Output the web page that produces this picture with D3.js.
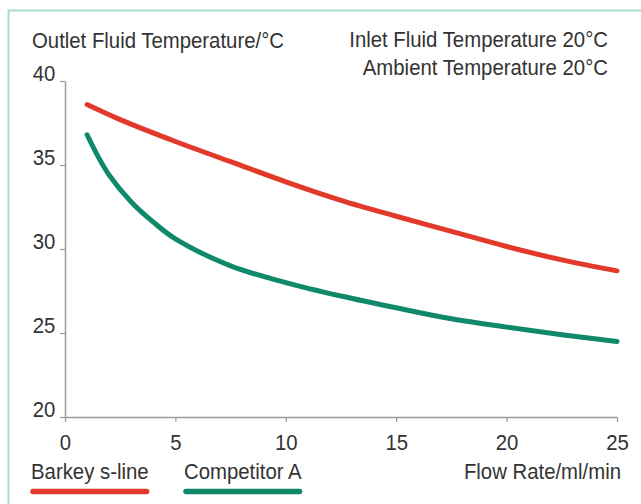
<!DOCTYPE html>
<html>
<head>
<meta charset="utf-8">
<script src="https://cdn.jsdelivr.net/npm/d3@7"></script>
<style>
  body { margin: 0; background: #fff; }
  svg text { font-family: "Liberation Sans", Arial, sans-serif; fill: #333; }
</style>
</head>
<body>
<div id="chart"></div>
<script>
// Data

const barkeyFlow = [1, 2.5, 5, 7.5, 10, 12.5, 15, 17.5, 20, 22.5, 25];
const barkey = [38.6, 37.7, 36.4, 35.2, 34.0, 32.9, 31.95, 31.05, 30.15, 29.35, 28.7];
const competitorFlow = [1, 1.5, 2, 3, 4, 5, 7.5, 10, 12.5, 15, 17.5, 20, 22.5, 25];
const competitor = [36.8, 35.5, 34.4, 32.8, 31.6, 30.6, 29.0, 28.0, 27.2, 26.5, 25.85, 25.35, 24.9, 24.5];
const xTicks = [0, 5, 10, 15, 20, 25];
const yTicks = [20, 25, 30, 35, 40];
const seriesNames = ['Barkey s-line', 'Competitor A'];
const seriesColors = ['#e13a2a', '#10896a'];

// Measurements

const width = 641;
const height = 504;
const margin = { top: 81, right: 24, bottom: 87, left: 65 };
const squeeze = 0.885; // condensed look
const fontSize = 23;

const svg = d3
	.select('#chart')
	.append('svg')
	.attr('width', width)
	.attr('height', height);

// frame
svg.append('path')
	.attr('d', `M8.5,${height} V10.5 H${width}`)
	.attr('fill', 'none')
	.attr('stroke', '#a9dccd')
	.attr('stroke-width', 2);

// Scales

const xscale = d3.scaleLinear().domain([0, 25]).range([margin.left, width - margin.right]);
const yscale = d3.scaleLinear().domain([20, 40]).range([height - margin.bottom, margin.top]);

// Axis

const xAxis = svg
	.append('g')
	.attr('transform', `translate(0, ${height - margin.bottom})`)
	.call(d3.axisBottom(xscale).tickValues(xTicks).tickSize(5).tickSizeOuter(0).tickPadding(11));

const yAxis = svg
	.append('g')
	.attr('transform', `translate(${margin.left}, 0)`)
	.call(d3.axisLeft(yscale).tickValues(yTicks).tickSize(5).tickSizeOuter(0).tickPadding(6));

[xAxis, yAxis].forEach((ax) => {
	ax.select('.domain').attr('stroke', '#9a9a9a').attr('stroke-width', 1.5);
	ax.selectAll('.tick line').attr('stroke', '#9a9a9a').attr('stroke-width', 1.2);
	ax.selectAll('text')
		.attr('font-size', fontSize)
		.attr('fill', '#333')
		.attr('transform', `scale(${squeeze},1)`);
});
yAxis.selectAll('text').attr('dy', '-0.02em');
xAxis.selectAll('text').attr('dy', '0.72em');

// Lines

const line = d3
	.line()
	.x((d) => xscale(d[0]))
	.y((d) => yscale(d[1]))
	.curve(d3.curveCatmullRom.alpha(0.5));

[[barkeyFlow, barkey], [competitorFlow, competitor]].forEach(([fl, vals], i) => {
	svg.append('path')
		.datum(fl.map((f, j) => [f, vals[j]]))
		.attr('d', line)
		.attr('fill', 'none')
		.attr('stroke', seriesColors[i])
		.attr('stroke-width', 5)
		.attr('stroke-linecap', 'round');
});

// Texts

const addText = (x, y, str, anchor) =>
	svg.append('text')
		.attr('transform', `translate(${x},${y}) scale(${squeeze},1)`)
		.attr('font-size', fontSize)
		.attr('text-anchor', anchor || 'start')
		.text(str);

addText(32, 48, 'Outlet Fluid Temperature/°C');
addText(608, 47, 'Inlet Fluid Temperature 20°C', 'end');
addText(608, 75, 'Ambient Temperature 20°C', 'end');
addText(621, 479, 'Flow Rate/ml/min', 'end');

// Legend

const legendX = [31, 184];
seriesNames.forEach((name, i) => {
	const t = addText(legendX[i], 479, name).attr('fill', '#222');
	const w = t.node().getComputedTextLength() * squeeze;
	svg.append('line')
		.attr('x1', legendX[i] + 2).attr('x2', legendX[i] + w - 2)
		.attr('y1', 491.5).attr('y2', 491.5)
		.attr('stroke', seriesColors[i])
		.attr('stroke-width', 5.5)
		.attr('stroke-linecap', 'round');
});
</script>
</body>
</html>
